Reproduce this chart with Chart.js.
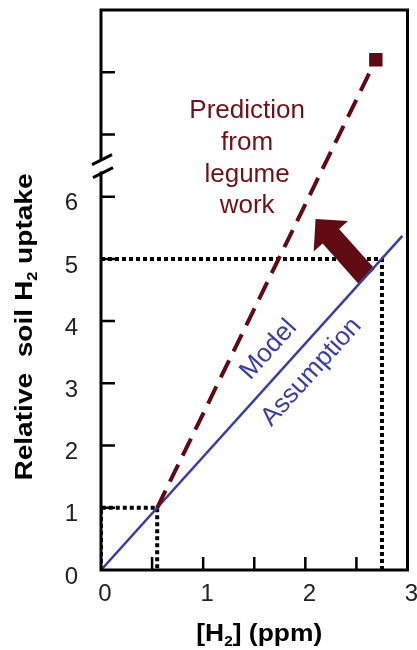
<!DOCTYPE html>
<html>
<head>
<meta charset="utf-8">
<script src="https://cdn.jsdelivr.net/npm/chart.js@4/dist/chart.umd.min.js"></script>
<style>
  body { margin: 0; background: #fff; }
  canvas { display: block; }
</style>
</head>
<body>
<canvas id="chart" width="417" height="650"></canvas>
<script>
// valeurs
const xTickLabels = [0, 1, 2, 3];
const yTickLabels = [0, 1, 2, 3, 4, 5, 6];

const modelX = [0, 2.95];
const modelY = [0, 5.37];

const predX = [0.55, 2.69];
const predY = [1, 8.2];

const markerX = [2.69];
const markerY = [8.2];

const dotLowX = [0, 0, 0.55, 0.55];
const dotLowY = [0, 1, 1, 0];

const dotHighX = [0, 2.75, 2.75];
const dotHighY = [5, 5, 0];

const arrowFrom = [2.6, 4.72];
const arrowTo = [2.1, 5.64];

const yBreak = 6.5;

const DARK_RED = "#600a14";
const BLUE = "#3a3f9e";
const FONT = "'Liberation Sans', Arial, sans-serif";

function pts(xs, ys) {
  return xs.map((x, i) => ({ x: x, y: ys[i] }));
}

// dessiner un texte avec indice (H2)
function drawSubText(ctx, parts, x, y, size, stretch) {
  ctx.save();
  ctx.translate(x, y);
  ctx.scale(stretch, 1);
  let total = 0;
  parts.forEach((p) => {
    ctx.font = `bold ${p.sub ? Math.round(size * 0.6) : size}px ${FONT}`;
    total += ctx.measureText(p.t).width;
  });
  let cx = -total / 2;
  ctx.textAlign = "left";
  ctx.textBaseline = "alphabetic";
  parts.forEach((p) => {
    ctx.font = `bold ${p.sub ? Math.round(size * 0.6) : size}px ${FONT}`;
    ctx.fillText(p.t, cx, p.sub ? size * 0.22 : 0);
    cx += ctx.measureText(p.t).width;
  });
  ctx.restore();
}

const decor = {
  id: "decor",
  afterDatasetDraw(chart, args) {
    // la flèche passe au-dessus des pointillés mais sous la droite bleue
    if (args.index !== 3) return;
    const { ctx, scales } = chart;
    const x0 = scales.x.getPixelForValue(arrowFrom[0]);
    const y0 = scales.y.getPixelForValue(arrowFrom[1]);
    const x1 = scales.x.getPixelForValue(arrowTo[0]);
    const y1 = scales.y.getPixelForValue(arrowTo[1]);
    const ang = Math.atan2(y1 - y0, x1 - x0);
    const len = Math.hypot(x1 - x0, y1 - y0);
    const hl = 23, hw = 23, sw = 11;
    ctx.save();
    ctx.translate(x0, y0);
    ctx.rotate(ang);
    ctx.beginPath();
    ctx.moveTo(0, -sw);
    ctx.lineTo(len - hl, -sw);
    ctx.lineTo(len - hl, -hw);
    ctx.lineTo(len, 0);
    ctx.lineTo(len - hl, hw);
    ctx.lineTo(len - hl, sw);
    ctx.lineTo(0, sw);
    ctx.closePath();
    ctx.fillStyle = DARK_RED;
    ctx.fill();
    ctx.restore();
  },
  afterDraw(chart) {
    const { ctx, chartArea: a, scales } = chart;
    const sx = scales.x, sy = scales.y;
    ctx.save();

    // cadre
    ctx.strokeStyle = "#000";
    ctx.lineWidth = 3;
    ctx.strokeRect(a.left, a.top, a.right - a.left, a.bottom - a.top);

    // graduations vers l'intérieur
    ctx.lineWidth = 2.5;
    ctx.beginPath();
    for (let v = 0.5; v < 3; v += 0.5) {
      const px = sx.getPixelForValue(v);
      ctx.moveTo(px, a.bottom);
      ctx.lineTo(px, a.bottom - 13);
    }
    for (let v = 1; v <= 8; v++) {
      const py = sy.getPixelForValue(v);
      ctx.moveTo(a.left, py);
      ctx.lineTo(a.left + 14, py);
    }
    ctx.stroke();

    // coupure de l'axe
    const yb = sy.getPixelForValue(yBreak);
    ctx.fillStyle = "#fff";
    ctx.fillRect(a.left - 3, yb - 6, 6, 12);
    ctx.lineWidth = 3;
    ctx.beginPath();
    ctx.moveTo(a.left - 9, yb - 1);
    ctx.lineTo(a.left + 11, yb - 11);
    ctx.moveTo(a.left - 8, yb + 12);
    ctx.lineTo(a.left + 12, yb + 2);
    ctx.stroke();

    // texte "Prediction from legume work"
    ctx.fillStyle = "#6e1118";
    ctx.font = `26px ${FONT}`;
    ctx.textAlign = "center";
    ctx.textBaseline = "alphabetic";
    const px = sx.getPixelForValue(1.43);
    const py = sy.getPixelForValue(7.26);
    ["Prediction", "from", "legume", "work"].forEach((t, i) => {
      ctx.fillText(t, px, py + i * 31.7);
    });

    // texte le long de la droite du modèle
    const mx0 = sx.getPixelForValue(modelX[0]), my0 = sy.getPixelForValue(modelY[0]);
    const mx1 = sx.getPixelForValue(modelX[1]), my1 = sy.getPixelForValue(modelY[1]);
    const rot = Math.atan2(my1 - my0, mx1 - mx0);
    ctx.fillStyle = BLUE;
    ctx.textBaseline = "middle";
    [["Model", 1.64, 3.54], ["Assumption", 2.06, 3.18]].forEach(([t, vx, vy]) => {
      ctx.save();
      ctx.translate(sx.getPixelForValue(vx), sy.getPixelForValue(vy));
      ctx.rotate(rot);
      ctx.fillText(t, 0, 0);
      ctx.restore();
    });

    // titres des axes
    ctx.fillStyle = "#000";
    drawSubText(ctx, [{ t: "[H" }, { t: "2", sub: true }, { t: "] (ppm)" }],
      (a.left + a.right) / 2 + 5, 641, 24, 1.1);
    ctx.save();
    ctx.translate(32, 327);
    ctx.rotate(-Math.PI / 2);
    drawSubText(ctx, [{ t: "Relative  soil H" }, { t: "2", sub: true }, { t: " uptake" }],
      0, 0, 24, 1.17);
    ctx.restore();

    ctx.restore();
  },
};

const ctx = document.getElementById("chart").getContext("2d");
new Chart(ctx, {
  type: "scatter",
  data: {
    datasets: [
      {
        data: pts(markerX, markerY),
        pointStyle: "rect",
        pointRadius: 9.5,
        backgroundColor: DARK_RED,
        borderColor: DARK_RED,
        borderWidth: 0,
      },
      {
        data: pts(predX, predY),
        showLine: true,
        borderColor: DARK_RED,
        borderWidth: 4,
        borderDash: [19, 10],
        pointRadius: 0,
      },
      {
        data: pts(modelX, modelY),
        showLine: true,
        borderColor: BLUE,
        borderWidth: 2.5,
        pointRadius: 0,
      },
      {
        data: pts(dotLowX, dotLowY),
        showLine: true,
        borderColor: "#000",
        borderWidth: 4,
        borderDash: [4, 3],
        pointRadius: 0,
      },
      {
        data: pts(dotHighX, dotHighY),
        showLine: true,
        borderColor: "#000",
        borderWidth: 4,
        borderDash: [4, 3],
        pointRadius: 0,
      },
    ],
  },
  options: {
    responsive: false,
    animation: false,
    layout: { padding: { left: 0, right: 8, top: 10, bottom: 0 } },
    plugins: {
      legend: { display: false },
      tooltip: { enabled: false },
    },
    scales: {
      x: {
        type: "linear",
        min: 0,
        max: 3,
        grid: { display: false, drawTicks: false },
        border: { display: false },
        ticks: {
          stepSize: 0.5,
          autoSkip: false,
          maxRotation: 0,
          padding: 10,
          labelOffset: 4,
          color: "#222",
          font: { family: FONT, size: 24 },
          callback: (v) => (xTickLabels.includes(v) ? v : ""),
        },
        afterFit: (s) => {
          s.height = 80;
          s.paddingLeft = 0;
          s.paddingRight = 0;
        },
      },
      y: {
        type: "linear",
        min: 0,
        max: 9,
        grid: { display: false, drawTicks: false },
        border: { display: false },
        ticks: {
          stepSize: 1,
          autoSkip: false,
          padding: 23,
          labelOffset: 7,
          color: "#222",
          font: { family: FONT, size: 24 },
          callback: (v) => (yTickLabels.includes(v) ? v : ""),
        },
        afterFit: (s) => {
          s.width = 101;
          s.paddingTop = 0;
          s.paddingBottom = 0;
        },
      },
    },
  },
  plugins: [decor],
});
</script>
</body>
</html>
